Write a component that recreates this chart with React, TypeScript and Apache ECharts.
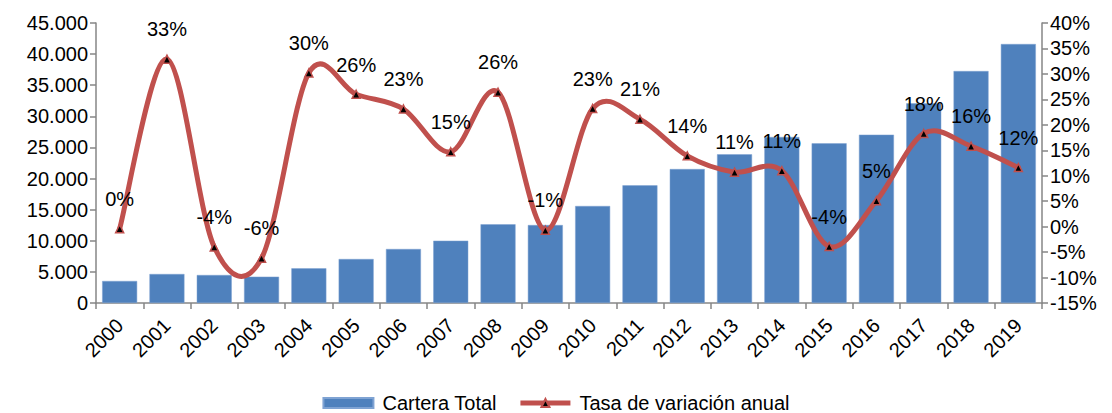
import React, { useEffect, useRef } from "react";
import * as echarts from "echarts";

const years = ["2000","2001","2002","2003","2004","2005","2006","2007","2008","2009","2010","2011","2012","2013","2014","2015","2016","2017","2018","2019"];
const cartera = [3540, 4660, 4500, 4230, 5570, 7070, 8680, 10010, 12650, 12530, 15590, 18910, 21530, 23900, 26680, 25660, 27050, 32090, 37280, 41620];
const tasa = [-0.4, 32.9, -4.0, -6.2, 30.2, 26.0, 23.1, 14.7, 26.4, -0.7, 23.2, 21.1, 13.9, 10.7, 11.0, -3.9, 5.1, 18.3, 15.8, 11.6];

const FONT = "'Liberation Sans', Arial, sans-serif";
const RED = "#C0504D";

export default function App() {
  const ref = useRef<HTMLDivElement>(null);
  useEffect(() => {
    document.body.style.margin = "0";
    const chart = echarts.init(ref.current!, null, { renderer: "svg" });
    const axisLine = { show: true, lineStyle: { color: "#868686", width: 1.5 } };
    const tick = { show: true, length: 6, lineStyle: { color: "#868686", width: 1.5 } };
    chart.setOption({
      animation: false,
      textStyle: { fontFamily: FONT },
      grid: { left: 96, right: 70, top: 23, bottom: 110, containLabel: false },
      legend: {
        top: 393,
        left: "center",
        padding: 0,
        itemGap: 21,
        textStyle: { fontSize: 20, color: "#000", fontFamily: FONT, padding: [0, 0, 0, 4] },
        data: [
          { name: "Cartera Total", icon: "rect", itemStyle: { color: "#4F81BD" } },
          { name: "Tasa de variación anual", lineStyle: { color: RED, width: 5, opacity: 1 } },
        ],
        itemWidth: 50,
        itemHeight: 10,
      },
      xAxis: {
        type: "category",
        data: years,
        axisLine,
        axisTick: { ...tick, alignWithLabel: false },
        axisLabel: { rotate: 45, fontSize: 20, color: "#000", margin: 19, fontFamily: FONT },
      },
      yAxis: [
        {
          type: "value",
          min: 0,
          max: 45000,
          interval: 5000,
          axisLine,
          axisTick: tick,
          splitLine: { show: false },
          axisLabel: {
            fontSize: 20,
            color: "#000",
            margin: 8,
            fontFamily: FONT,
            formatter: (v: number) => (v === 0 ? "0" : (v / 1000).toFixed(0) + ".000"),
          },
        },
        {
          type: "value",
          min: -15,
          max: 40,
          interval: 5,
          position: "right",
          axisLine,
          axisTick: tick,
          splitLine: { show: false },
          axisLabel: { fontSize: 20, color: "#000", margin: 8, fontFamily: FONT, formatter: (v: number) => v + "%" },
        },
      ],
      series: [
        {
          name: "Cartera Total",
          type: "bar",
          data: cartera,
          barWidth: 35,
          itemStyle: { color: "#4F81BD", borderColor: "#7FA3D3", borderWidth: 0.5 },
          z: 1,
        },
        {
          name: "curve",
          type: "custom",
          yAxisIndex: 1,
          data: tasa.map((v, i) => [i, v]),
          z: 2,
          silent: true,
          legendHoverLink: false,
          renderItem: (params: any, api: any) => {
            if (params.dataIndex !== 0) return null;
            const pts = tasa.map((v, i) => api.coord([i, v]));
            const n = pts.length;
            let d = `M${pts[0][0]},${pts[0][1]}`;
            for (let i = 0; i < n - 1; i++) {
              const p0 = pts[Math.max(0, i - 1)];
              const p1 = pts[i];
              const p2 = pts[i + 1];
              const p3 = pts[Math.min(n - 1, i + 2)];
              const c1x = p1[0] + (p2[0] - p0[0]) / 6;
              const c1y = p1[1] + (p2[1] - p0[1]) / 6;
              const c2x = p2[0] - (p3[0] - p1[0]) / 6;
              const c2y = p2[1] - (p3[1] - p1[1]) / 6;
              d += ` C${c1x},${c1y} ${c2x},${c2y} ${p2[0]},${p2[1]}`;
            }
            return {
              type: "path",
              shape: { pathData: d },
              style: { fill: "none", stroke: RED, lineWidth: 5, lineCap: "round", lineJoin: "round" },
            };
          },
        },
        {
          name: "Tasa de variación anual",
          type: "line",
          yAxisIndex: 1,
          data: tasa,
          symbol: "triangle",
          symbolSize: 8,
          lineStyle: { color: RED, width: 5, opacity: 0 },
          itemStyle: { color: "#000", borderColor: RED, borderWidth: 1.5 },
          label: {
            show: true,
            position: "top",
            distance: 15,
            fontSize: 20,
            color: "#000",
            fontFamily: FONT,
            formatter: (p: any) => Math.round(p.value) + "%",
          },
          z: 3,
        },
      ],
    });
    return () => chart.dispose();
  }, []);
  return <div ref={ref} style={{ width: 1112, height: 413 }} />;
}
